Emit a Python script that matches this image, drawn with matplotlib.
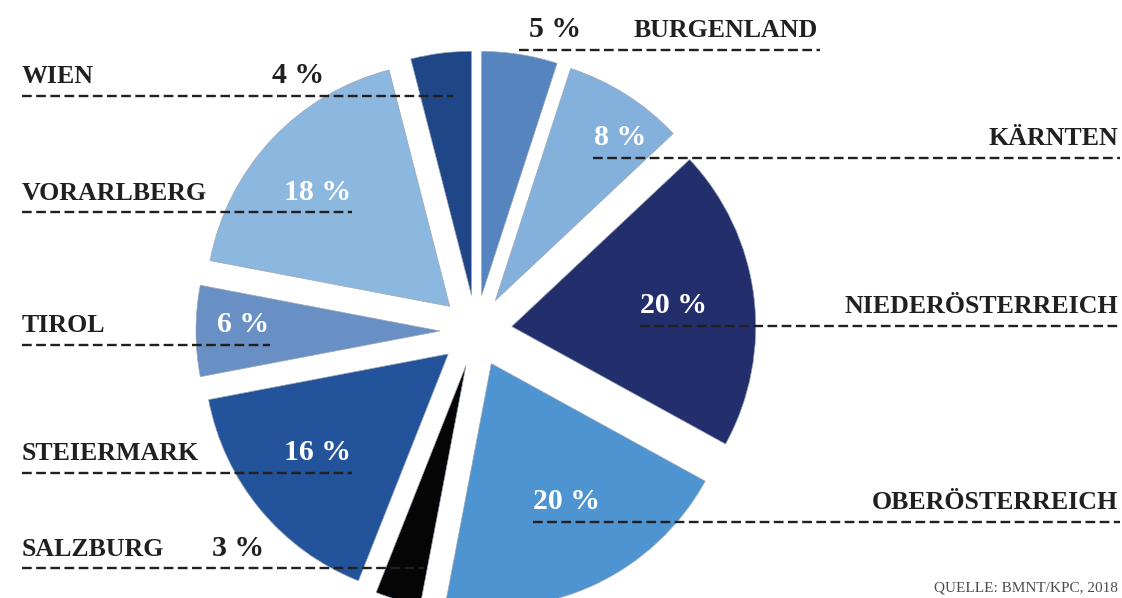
import matplotlib
matplotlib.use("Agg")
import matplotlib.pyplot as plt

# ---- data ----
regions = ["BURGENLAND", "KÄRNTEN", "NIEDERÖSTERREICH", "OBERÖSTERREICH",
           "SALZBURG", "STEIERMARK", "TIROL", "VORARLBERG", "WIEN"]
shares = [5, 8, 20, 20, 3, 16, 6, 18, 4]
pct_labels = [f"{v} %" for v in shares]
source_text = "QUELLE: BMNT/KPC, 2018"

# ---- styles ----
colors = ["#5584be", "#84b1dc", "#232e6c", "#4e94d0", "#050505",
          "#23539a", "#6890c5", "#8cb8df", "#1f4686"]
DARK = "#231f20"
W, H = 1122, 598

# label layout in pixel coords (y from top):
# name_x, name_ha, baseline_y, line_x0, line_x1, line_y, pct_x, pct_ha, pct_color
layout = {
    "BURGENLAND":       (634, "left", 37, 519, 820, 50, 529, "left", DARK),
    "KÄRNTEN":          (1118, "right", 145, 593, 1120, 158, 594, "left", "white"),
    "NIEDERÖSTERREICH": (1118, "right", 313, 640, 1120, 326, 640, "left", "white"),
    "OBERÖSTERREICH":   (1118, "right", 509, 533, 1120, 522, 533, "left", "white"),
    "SALZBURG":         (22, "left", 556, 22, 424, 568, 212, "left", DARK),
    "STEIERMARK":       (22, "left", 460, 22, 352, 473, 351, "right", "white"),
    "TIROL":            (22, "left", 332, 22, 270, 345, 269, "right", "white"),
    "VORARLBERG":       (22, "left", 200, 22, 352, 212, 351, "right", "white"),
    "WIEN":             (22, "left", 83, 22, 453, 96, 272, "left", DARK),
}

plt.rcParams["font.family"] = ["Liberation Serif", "DejaVu Serif"]
plt.rcParams["lines.scale_dashes"] = False

fig = plt.figure(figsize=(W / 100, H / 100), dpi=100)
ax = fig.add_axes([0, 0, 1, 1])

cx, cy, R, expl = 476, 331, 244, 36
ax.pie(shares, colors=colors, startangle=90, counterclock=False,
       center=(cx, H - cy), radius=R, explode=[expl] * len(shares),
       wedgeprops=dict(linewidth=0.5, edgecolor="#9aa6b8"))

ax.set_xlim(0, W)
ax.set_ylim(0, H)
ax.set_aspect("equal")
ax.axis("off")

for name, pct in zip(regions, pct_labels):
    nx, nha, by, lx0, lx1, ly, px, pha, pcol = layout[name]
    ax.plot([lx0, lx1], [H - ly, H - ly], color=DARK, lw=1.7,
            ls=(0, (7, 3.2)), zorder=3, solid_capstyle="butt",
            dash_capstyle="butt")
    ax.text(nx, H - by, name, ha=nha, va="baseline", fontsize=18.6,
            fontweight="bold", color=DARK, zorder=4)
    ax.text(px, H - by, pct, ha=pha, va="baseline", fontsize=21.5,
            fontweight="bold", color=pcol, zorder=4)

ax.text(1118, H - 592, source_text, ha="right", va="baseline",
        fontsize=11, color="#4d4d4d", zorder=4)

fig.savefig("out.png", dpi=100)
